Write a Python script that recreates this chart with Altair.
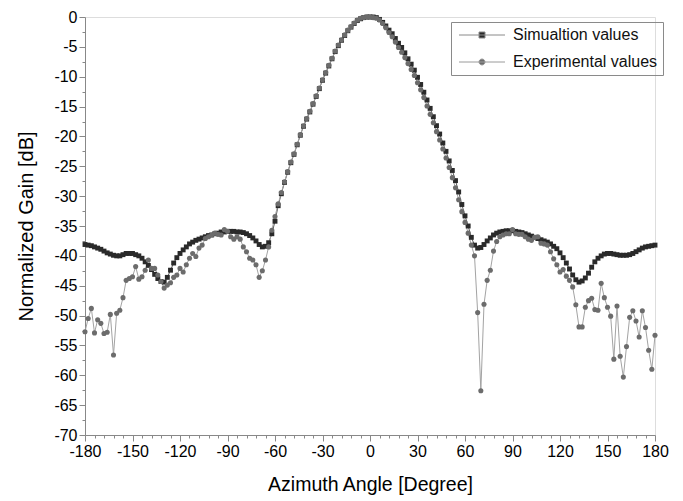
import altair as alt
import pandas as pd

# ---------------- data ----------------
angles = list(range(-180, 181, 2))

sim_gain = [
    -38.1, -38.2, -38.3, -38.5, -38.7, -38.9, -39.2, -39.5, -39.7, -39.9,   # -180..-162
    -40.0, -40.0, -39.8, -39.6, -39.6, -39.6, -39.8, -40.0, -40.4, -41.0,   # -160..-142
    -41.6, -42.3, -43.1, -43.8, -44.3, -44.4, -43.6, -42.4, -41.2, -40.3,   # -140..-122
    -39.6, -39.0, -38.5, -38.0, -37.7, -37.4, -37.2, -37.0, -36.8, -36.6,   # -120..-102
    -36.5, -36.3, -36.2, -36.0, -36.0, -35.9, -35.9, -35.9, -36.0, -36.0,   # -100..-82
    -36.1, -36.3, -36.6, -37.0, -37.5, -38.1, -38.5, -38.4, -37.8, -36.3,   # -80..-62
    -34.2, -31.6, -29.6, -27.7, -26.0, -24.4, -23.0, -21.4, -19.8, -18.3,   # -60..-42
    -17.1, -15.9, -14.6, -13.3, -12.0, -10.6, -9.4, -8.2, -7.0, -5.8,       # -40..-22
    -4.8, -3.9, -3.1, -2.3, -1.7, -1.1, -0.6, -0.3, -0.1, 0.0,              # -20..-2
    0.0,                                                                    # 0
    0.0, -0.1, -0.4, -0.9, -1.5, -2.2, -2.8, -3.6, -4.4, -5.1,              # 2..20
    -6.0, -7.0, -7.9, -8.9, -10.1, -11.3, -12.6, -13.9, -15.3, -16.7,       # 22..40
    -18.2, -19.6, -21.1, -22.5, -24.1, -25.7, -27.4, -29.3, -31.4, -33.3,   # 42..60
    -35.0, -36.9, -38.2, -38.7, -38.6, -38.1, -37.5, -37.0, -36.5, -36.2,   # 62..80
    -36.0, -35.9, -35.8, -35.8, -35.8, -35.9, -36.0, -36.1, -36.3, -36.5,   # 82..100
    -36.7, -36.9, -37.1, -37.3, -37.5, -37.7, -38.0, -38.4, -38.8, -39.5,   # 102..120
    -40.3, -41.2, -42.2, -43.2, -44.0, -44.4, -44.2, -43.7, -42.9, -41.9,   # 122..140
    -41.0, -40.4, -40.0, -39.7, -39.6, -39.6, -39.7, -39.8, -39.9, -39.9,   # 142..160
    -39.9, -39.8, -39.6, -39.3, -39.0, -38.7, -38.5, -38.4, -38.3, -38.2,   # 162..180
]

exp_gain = [
    -52.7, -50.5, -48.8, -52.9, -50.7, -51.3, -53.0, -52.8, -49.8, -56.6,   # -180..-162
    -49.6, -49.1, -47.0, -44.1, -43.8, -43.5, -41.8, -43.9, -43.5, -42.4,   # -160..-142
    -40.7, -42.1, -42.1, -43.2, -44.3, -45.4, -44.9, -44.5, -43.6, -43.2,   # -140..-122
    -42.1, -42.7, -41.5, -40.4, -39.6, -40.1, -38.7, -38.2, -37.1, -36.8,   # -120..-102
    -36.5, -36.2, -36.4, -36.5, -35.6, -35.9, -36.8, -37.2, -36.8, -37.2,   # -100..-82
    -38.5, -39.3, -40.4, -40.7, -41.5, -43.6, -42.5, -40.7, -38.5, -35.7,   # -80..-62
    -33.4, -31.3, -29.4, -27.6, -25.9, -24.3, -22.9, -21.3, -19.7, -18.2,   # -60..-42
    -17.0, -15.8, -14.5, -13.2, -11.9, -10.5, -9.3, -8.1, -6.9, -5.7,       # -40..-22
    -4.7, -3.8, -3.0, -2.2, -1.6, -1.0, -0.5, -0.2, -0.1, 0.0,              # -20..-2
    0.0,                                                                    # 0
    -0.1, -0.2, -0.5, -1.1, -1.8, -2.6, -3.3, -4.2, -5.1, -5.9,             # 2..20
    -6.8, -7.8, -8.8, -9.8, -11.0, -12.2, -13.5, -14.9, -16.3, -17.7,       # 22..40
    -19.2, -20.6, -22.1, -23.6, -25.2, -26.9, -28.6, -30.6, -32.6, -34.4,   # 42..60
    -36.2, -38.2, -40.0, -49.5, -62.6, -48.1, -44.1, -42.4, -39.2, -37.6,   # 62..80
    -36.8, -36.5, -36.3, -36.3, -35.6, -36.3, -36.4, -36.4, -36.8, -37.2,   # 82..100
    -37.4, -36.9, -36.8, -37.9, -38.0, -38.2, -39.3, -40.5, -41.5, -42.7,   # 102..120
    -42.3, -43.4, -44.1, -45.2, -48.2, -51.9, -51.9, -48.6, -47.5, -47.1,   # 122..140
    -49.0, -49.1, -44.6, -47.0, -48.6, -50.1, -57.3, -48.4, -56.8, -60.3,   # 142..160
    -55.2, -50.3, -49.2, -50.9, -53.6, -49.2, -52.0, -55.8, -59.0, -53.3,   # 162..180
]

series_names = ["Simualtion values", "Experimental values"]
x_major = list(range(-180, 181, 30))
x_minor = [v for v in range(-180, 181, 6) if v % 30 != 0]
y_major = list(range(-70, 1, 5))
y_minor = [-(5 * k + 2.5) for k in range(14)]

assert len(sim_gain) == len(angles) and len(exp_gain) == len(angles)

df = pd.DataFrame({
    "angle": angles + angles,
    "gain": sim_gain + exp_gain,
    "series": [series_names[0]] * len(angles) + [series_names[1]] * len(angles),
})

FONT = "Liberation Sans"
INK = "#111111"

xscale = alt.Scale(domain=[-180, 180], nice=False, zero=False)
yscale = alt.Scale(domain=[-70, 0], nice=False, zero=False)

major_x_axis = alt.Axis(values=x_major, title="Azimuth Angle [Degree]", orient="bottom",
                        grid=False, tickSize=6, labelPadding=2, labelFontSize=16,
                        titleFontSize=19.5, titleFontWeight="normal", titlePadding=16,
                        labelFlush=False, labelOverlap=False,
                        labelExpr="toString(datum.value)")
major_y_axis = alt.Axis(values=y_major, title="Normalized Gain [dB]", orient="left",
                        grid=False, tickSize=6, labelPadding=2, labelFontSize=16,
                        titleFontSize=20, titleFontWeight="normal", titlePadding=17,
                        labelOverlap=False, labelExpr="toString(datum.value)")
minor_x_axis = alt.Axis(values=x_minor, orient="bottom", grid=False, tickSize=3,
                        labels=False, domain=False, title=None)
minor_y_axis = alt.Axis(values=y_minor, orient="left", grid=False, tickSize=3,
                        labels=False, domain=False, title=None)

base = alt.Chart(df)

sim = base.transform_filter(alt.datum.series == series_names[0])
exp = base.transform_filter(alt.datum.series == series_names[1])

sim_line = sim.mark_line(color="#5a5a5a", strokeWidth=1).encode(
    x=alt.X("angle:Q", scale=xscale, axis=major_x_axis),
    y=alt.Y("gain:Q", scale=yscale, axis=major_y_axis),
)
exp_line = exp.mark_line(color="#a3a3a3", strokeWidth=1).encode(
    x=alt.X("angle:Q", scale=xscale, axis=minor_x_axis),
    y=alt.Y("gain:Q", scale=yscale, axis=minor_y_axis),
)
sim_pts = sim.mark_point(shape="square", filled=True, size=24, color="#2a2a2a", opacity=1).encode(
    x=alt.X("angle:Q", scale=xscale, axis=None),
    y=alt.Y("gain:Q", scale=yscale, axis=None),
)
exp_pts = exp.mark_point(shape="circle", filled=True, size=26, color="#6c6c6c", opacity=1).encode(
    x=alt.X("angle:Q", scale=xscale, axis=None),
    y=alt.Y("gain:Q", scale=yscale, axis=None),
)

# legend symbols: a short line with the marker in its middle (custom symbol paths)
SIM_PATH = "M-1,0L8.2,0M3,-0.6L4.2,-0.6L4.2,0.6L3,0.6Z"
EXP_PATH = "M-1,0L8.2,0M3,0A0.6,0.6,0,1,1,4.2,0A0.6,0.6,0,1,1,3,0Z"

leg = alt.Legend(title=None, orient="none", legendX=366, legendY=5,
                 strokeColor="#8a8a8a", padding=5, symbolSize=100,
                 symbolStrokeWidth=1, labelFontSize=16, labelFont=FONT,
                 labelColor=INK, labelOffset=41, rowPadding=11, symbolOpacity=1)

legend_df = pd.DataFrame({"series": series_names})
legend_layer = alt.Chart(legend_df).transform_filter("false").mark_point(filled=True).encode(
    shape=alt.Shape("series:N", scale=alt.Scale(domain=series_names, range=[SIM_PATH, EXP_PATH]), legend=leg),
    fill=alt.Fill("series:N", scale=alt.Scale(domain=series_names, range=["#2a2a2a", "#6c6c6c"]), legend=leg),
    stroke=alt.Stroke("series:N", scale=alt.Scale(domain=series_names, range=["#8a8a8a", "#9a9a9a"]), legend=leg),
)

chart = alt.layer(sim_line, exp_line, sim_pts, exp_pts, legend_layer).resolve_axis(
    x="independent", y="independent"
).properties(
    width=570, height=418,
    autosize=alt.AutoSizeParams(type="none"),
    padding={"left": 77, "top": 9, "right": 20, "bottom": 60},
).configure_view(stroke=None).configure_axis(
    labelFont=FONT, titleFont=FONT, labelColor=INK, titleColor=INK,
    domainColor=INK, tickColor=INK, domainWidth=1, tickWidth=1,
).configure(background="white")

chart.save("out.html", embed_options={"renderer": "svg", "actions": False})
